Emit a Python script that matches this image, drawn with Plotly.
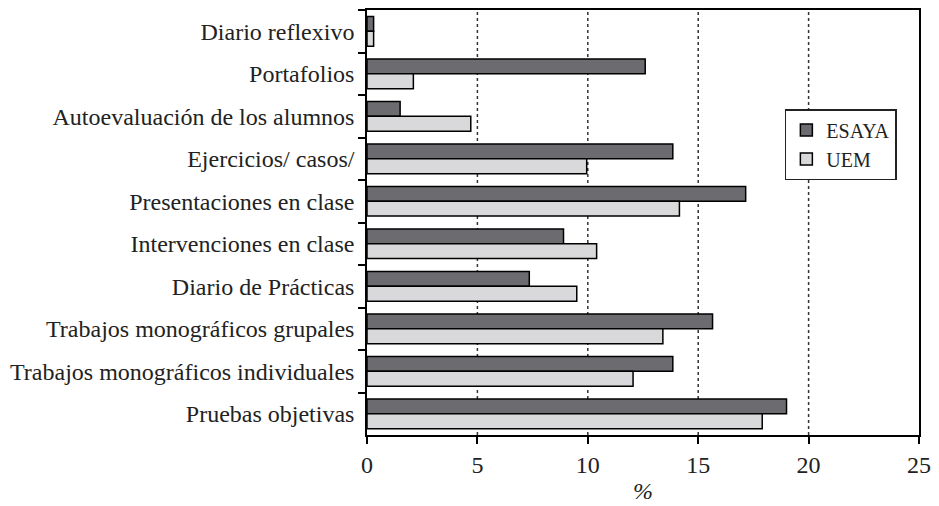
import plotly.graph_objects as go

categories = [
    "Diario reflexivo",
    "Portafolios",
    "Autoevaluación de los alumnos",
    "Ejercicios/ casos/",
    "Presentaciones en clase",
    "Intervenciones en clase",
    "Diario de Prácticas",
    "Trabajos monográficos grupales",
    "Trabajos monográficos individuales",
    "Pruebas objetivas",
]
esaya = [0.3, 12.6, 1.5, 13.85, 17.15, 8.9, 7.35, 15.65, 13.85, 19.0]
uem = [0.3, 2.1, 4.7, 9.95, 14.15, 10.4, 9.5, 13.4, 12.05, 17.9]
x_ticks = [0, 5, 10, 15, 20, 25]
x_title = "%"

FONT = "Liberation Serif"
FS = 24

fig = go.Figure()
fig.add_trace(go.Bar(
    y=categories, x=esaya, name="ESAYA", orientation="h",
    marker=dict(color="#6c6c70", line=dict(color="black", width=1.5)),
))
fig.add_trace(go.Bar(
    y=categories, x=uem, name="UEM", orientation="h",
    marker=dict(color="#d9d9db", line=dict(color="black", width=1.5)),
))

# dotted gridlines at inner ticks
for v in x_ticks[1:-1]:
    fig.add_shape(type="line", xref="x", yref="paper", x0=v, x1=v, y0=0, y1=1,
                  line=dict(color="#333333", width=1.5, dash="dot"), layer="below")

fig.add_annotation(
    text="<i>" + x_title + "</i>", xref="paper", yref="paper", x=0.5, y=-0.132,
    xanchor="center", yanchor="middle", showarrow=False,
    font=dict(family=FONT, size=FS, color="#222222"),
)

fig.update_layout(
    width=923, height=498,
    margin=dict(l=359, r=12, t=2, b=71, autoexpand=False),
    paper_bgcolor="white", plot_bgcolor="white",
    barmode="group", bargap=0.30, bargroupgap=0,
    font=dict(family=FONT, size=FS, color="#222222"),
    showlegend=True,
    legend=dict(
        x=0.757, y=0.767, xanchor="left", yanchor="top",
        bordercolor="#222222", borderwidth=1.5, bgcolor="white",
        font=dict(family=FONT, size=20, color="#222222"),
        itemwidth=30, tracegroupgap=0,
    ),
)
fig.update_xaxes(
    range=[0, 25], tickvals=x_ticks, ticks="outside", ticklen=7, tickwidth=1.5,
    tickcolor="black", showline=True, linecolor="black", linewidth=1.5, mirror=True,
    showgrid=False, zeroline=False, automargin=False,
)
fig.update_yaxes(
    autorange="reversed", ticks="outside", tickson="boundaries", ticklen=7,
    tickwidth=1.5, tickcolor="black", showline=True, linecolor="black",
    linewidth=1.5, mirror=True, showgrid=False, ticklabelstandoff=6,
    automargin=False,
)

fig.write_html("out.html")
